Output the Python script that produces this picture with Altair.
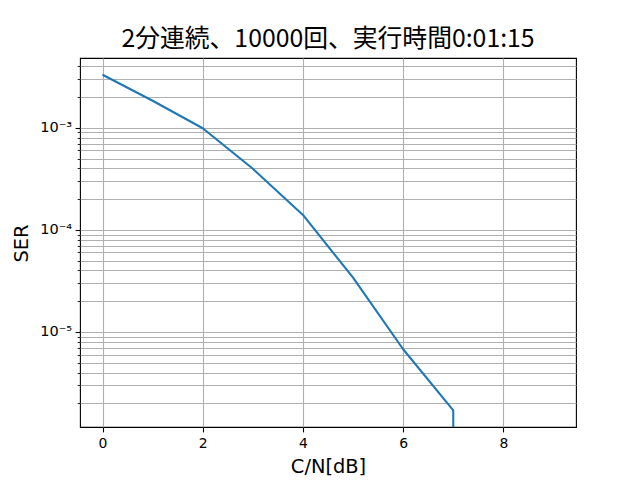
import altair as alt
import pandas as pd

# data
cn_db = [0, 1, 2, 3, 4, 5, 6, 7, 8, 9]
ser = [3.31e-3, 1.84e-3, 0.99e-3, 3.97e-4, 1.40e-4, 3.40e-5, 6.76e-6, 1.70e-6, 0.0, 0.0]

x_ticks = [0, 2, 4, 6, 8]
y_major = [1e-5, 1e-4, 1e-3]
y_minor = [k * 10.0 ** e for e in (-6, -5, -4, -3) for k in range(2, 10)]
y_minor = [v for v in y_minor if 1.17e-6 <= v <= 4.83e-3]

df = pd.DataFrame({"cn": cn_db, "ser": ser})

major_test = "datum.value == 0.001 || datum.value == 0.0001 || datum.value == 0.00001"

line = (
    alt.Chart(df)
    .transform_calculate(ser_plot="max(datum.ser, 1e-300)")
    .mark_line(color="#1f77b4", strokeWidth=2.1, clip=True, strokeJoin="round")
    .encode(
        x=alt.X(
            "cn:Q",
            scale=alt.Scale(domain=[-0.45, 9.45], nice=False, zero=False),
            axis=alt.Axis(
                values=x_ticks,
                title="C/N[dB]",
                titleX=248,
                titleY=45,
                titleBaseline="alphabetic",
                titleAlign="center",
                labelPadding=4.5,
            ),
        ),
        y=alt.Y(
            "ser_plot:Q",
            scale=alt.Scale(type="log", domain=[1.17e-6, 4.83e-3], nice=False),
            axis=alt.Axis(
                values=sorted(y_major + y_minor),
                title="SER",
                titleX=-53,
                titleY=185,
                titleBaseline="alphabetic",
                titleAlign="center",
                labelExpr="datum.value == 0.001 ? '10⁻³' : datum.value == 0.0001 ? '10⁻⁴' : datum.value == 0.00001 ? '10⁻⁵' : ''",
                labelFontSize=14.5,
                tickSize={"condition": {"test": major_test, "value": 4.9}, "value": 2.8},
                tickWidth={"condition": {"test": major_test, "value": 1.1}, "value": 0.85},
                labelPadding=3.5,
            ),
        ),
    )
)

chart = (
    line.properties(
        width=496,
        height=369,
        title=alt.TitleParams(
            "2分連続、10000回、実行時間0:01:15",
            font="Noto Sans CJK JP",
            fontSize=24.8,
            fontWeight="normal",
            color="black",
            anchor="middle",
            baseline="alphabetic",
            offset=-14,
        ),
        autosize=alt.AutoSizeParams(type="none"),
        padding={"left": 80, "top": 58, "right": 64, "bottom": 53},
        background="white",
    )
    .configure_view(stroke="black", strokeWidth=1.1)
    .configure_axis(
        domain=False,
        grid=True,
        gridColor="#b0b0b0",
        gridWidth=1.1,
        gridOpacity=1,
        tickColor="black",
        tickSize=4.9,
        tickWidth=1.1,
        labelFont="DejaVu Sans",
        labelFontSize=13.9,
        labelColor="black",
        titleFont="DejaVu Sans",
        titleFontSize=19.4,
        titleFontWeight="normal",
        titleColor="black",
    )
)

chart.save("out.html", embed_options={"renderer": "svg", "actions": False})
